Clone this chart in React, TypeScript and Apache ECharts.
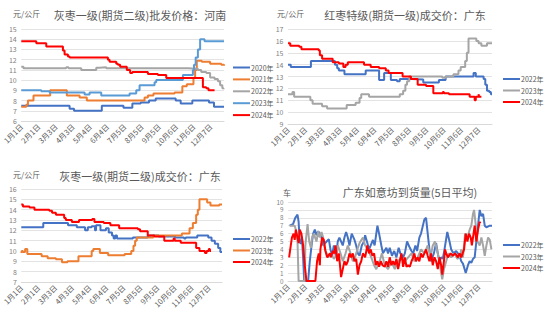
import React, { useEffect, useRef } from 'react';
import * as echarts from 'echarts';

type Pt = [number, number];

// x axis: day of year (0 = 1月1日), ticks every 31 days
const xTickLabels = ['1月1日', '2月1日', '3月3日', '4月3日', '5月4日', '6月4日', '7月5日', '8月5日', '9月5日', '10月6日', '11月6日', '12月7日'];

const titles = [
  '灰枣一级(期货二级)批发价格：河南',
  '红枣特级(期货一级)成交价：广东',
  '灰枣一级(期货二级)成交价：广东',
  '广东如意坊到货量(5日平均)',
];
const units = ['元/公斤', '元/公斤', '元/公斤', '车'];

// Panel 1: 灰枣一级 批发价格 河南 (step points: [day, new value])
const p1_2020: Pt[] = [[0,7.5],[87,7.2],[95,7.0],[145,7.5],[184,7.3],[200,7.7],[215,7.8],[230,8.0],[242,8.2],[278,8.0],[287,7.7],[308,8.0],[338,7.8],[347,7.4],[365,7.4]];
const p1_2021: Pt[] = [[0,7.4],[9,7.6],[12,8.0],[22,8.5],[52,9.0],[82,8.5],[105,8.3],[118,8.0],[222,8.3],[228,8.5],[238,8.7],[276,8.8],[290,9.4],[298,9.6],[310,10.2],[313,11.0],[316,11.9],[325,11.8],[340,11.6],[360,11.5],[365,11.4]];
const p1_2022: Pt[] = [[0,11.3],[4,11.15],[81,11.25],[85,11.15],[108,11.0],[135,11.2],[141,11.25],[153,11.15],[300,11.1],[318,11.0],[324,10.8],[333,10.7],[340,10.25],[348,10.1],[354,9.9],[358,9.5],[362,9.2],[364,9.1]];
const p1_2023: Pt[] = [[0,9.0],[36,8.9],[51,8.8],[114,8.6],[123,8.8],[144,8.5],[195,8.7],[207,9.0],[213,9.5],[240,9.8],[243,10.0],[291,10.5],[309,11.0],[311,11.5],[314,12.2],[318,13.0],[322,14.0],[330,13.8],[365,13.8]];
const p1_2024: Pt[] = [[0,13.8],[27,13.6],[45,13.3],[75,12.9],[78,12.5],[84,12.3],[87,12.2],[156,12.0],[159,11.8],[171,11.6],[174,11.5],[178,11.3],[190,11.0],[196,10.7],[200,10.8],[228,10.6],[246,10.5],[261,10.2],[327,9.3],[333,9.2],[337,9.0],[348,9.0]];

// Panel 2: 红枣特级 成交价 广东
const p2_2022: Pt[] = [[0,14.0],[5,13.8],[41,14.3],[84,14.0],[88,13.7],[91,13.5],[101,13.2],[139,13.5],[163,12.7],[172,13.3],[184,12.7],[195,12.6],[200,12.8],[211,12.75],[242,12.5],[270,12.7],[282,13.0],[332,13.3],[336,13.0],[350,12.8],[353,12.3],[356,11.8],[360,11.7],[363,11.5],[365,11.5]];
const p2_2023: Pt[] = [[0,11.5],[8,11.7],[11,11.3],[40,11.0],[44,10.7],[61,10.5],[70,10.3],[105,10.6],[121,10.8],[128,11.2],[131,11.5],[145,11.3],[200,11.5],[206,11.8],[210,12.3],[213,12.6],[217,13.0],[276,12.9],[282,13.0],[296,13.2],[305,13.5],[309,13.8],[317,14.3],[320,15.0],[323,16.2],[337,16.0],[341,15.8],[346,15.6],[356,15.8],[365,15.8]];
const p2_2024: Pt[] = [[0,15.8],[4,15.6],[20,15.5],[24,15.3],[55,15.2],[57,14.8],[61,14.5],[80,14.2],[91,14.1],[99,13.8],[103,14.0],[107,14.2],[136,14.0],[148,13.8],[163,13.7],[175,13.5],[180,13.3],[205,13.0],[220,12.8],[232,12.3],[247,12.2],[260,11.6],[277,11.7],[279,11.6],[288,11.5],[325,11.3],[334,11.0],[336,11.3],[341,11.5],[342,11.3],[346,11.3]];

// Panel 3: 灰枣一级 成交价 广东
const p3_2022: Pt[] = [[0,12.3],[40,12.7],[85,12.5],[101,12.3],[116,12.0],[121,12.3],[128,12.4],[134,12.0],[136,12.5],[144,12.0],[154,12.2],[159,11.8],[165,11.5],[168,11.2],[171,11.5],[174,11.2],[203,11.3],[230,11.5],[250,11.4],[280,11.3],[296,11.2],[299,11.3],[320,11.5],[340,11.3],[346,11.0],[352,10.7],[358,10.3],[362,9.9],[365,9.9]];
const p3_2023: Pt[] = [[0,9.8],[1,10.0],[3,9.9],[7,10.2],[11,9.7],[37,9.5],[48,9.3],[63,9.2],[74,8.9],[84,9.0],[104,9.5],[128,10.0],[131,10.2],[143,9.8],[158,9.6],[188,9.7],[200,10.0],[204,10.5],[207,11.0],[210,11.3],[240,11.5],[292,11.7],[306,12.2],[312,12.7],[318,13.5],[321,14.0],[324,15.0],[338,14.7],[344,14.4],[360,14.5],[365,14.5]];
const p3_2024: Pt[] = [[0,14.5],[3,14.3],[15,14.2],[24,14.0],[51,13.9],[56,13.7],[63,13.5],[78,13.2],[81,13.0],[92,12.8],[105,13.0],[129,13.1],[133,12.8],[150,12.7],[162,12.5],[178,12.2],[212,12.1],[216,11.9],[230,11.5],[242,11.4],[260,11.0],[277,11.2],[279,11.0],[290,10.8],[318,10.3],[324,10.0],[334,9.8],[337,10.0],[341,10.2],[343,10.0],[345,10.0]];

// Panel 4: 广东如意坊到货量 (5日平均)
const p4_2022: Pt[] = [[3,7.0],[9,7.2],[13,8.0],[17,8.4],[19,7.5],[21,5.0],[23,4.7],[25,5.5],[27,3.0],[29,0],[36,0],[39,2.5],[43,5.0],[45,6.0],[48,6.5],[51,5.8],[54,6.3],[57,6.0],[60,5.5],[63,4.5],[69,5.0],[73,5.3],[76,4.0],[79,3.2],[82,4.5],[86,3.0],[89,5.0],[92,5.5],[98,4.5],[101,5.5],[104,6.2],[107,5.5],[110,4.5],[114,6.0],[119,5.2],[122,4.5],[125,3.5],[128,3.2],[132,4.5],[136,5.0],[138,5.8],[142,4.8],[145,4.0],[148,4.5],[152,5.2],[155,4.5],[160,7.0],[163,6.0],[167,4.5],[170,3.5],[176,4.2],[179,3.5],[182,4.2],[186,3.2],[190,3.8],[194,3.0],[198,4.2],[201,3.5],[206,3.0],[209,3.5],[213,5.0],[218,4.2],[221,3.8],[224,3.5],[228,4.5],[231,3.8],[235,5.5],[238,6.0],[244,7.8],[247,8.0],[250,6.0],[253,4.0],[256,2.5],[261,3.5],[265,4.8],[268,3.5],[271,2.5],[274,3.0],[277,2.8],[280,4.0],[285,6.2],[289,5.0],[292,4.0],[296,3.5],[301,3.8],[304,3.5],[307,3.2],[310,2.5],[313,2.2],[316,1.5],[318,1.0],[322,2.0],[325,2.5],[328,2.3],[331,2.8],[334,3.0],[337,5.0],[340,7.0],[343,9.0],[346,8.2],[349,8.5],[352,7.0],[355,6.8],[361,7.0],[365,7.0]];
const p4_2023: Pt[] = [[3,7.0],[12,7.0],[14,6.5],[17,5.0],[19,0],[30,0],[31,4.5],[35,7.2],[38,5.0],[41,4.2],[43,5.5],[46,6.0],[51,5.0],[54,6.3],[57,5.5],[60,6.2],[63,5.5],[66,4.0],[72,3.0],[77,3.5],[82,2.8],[86,3.2],[89,4.5],[94,3.5],[98,2.5],[103,3.5],[107,4.5],[112,3.5],[116,2.5],[120,3.0],[124,4.0],[128,4.8],[134,5.5],[138,4.5],[143,4.0],[149,3.0],[154,2.0],[158,1.5],[164,2.5],[168,3.5],[173,2.0],[179,1.5],[185,2.5],[191,1.5],[197,2.5],[203,3.0],[209,2.5],[215,3.0],[221,3.5],[226,2.5],[232,3.0],[238,4.0],[244,3.5],[250,4.5],[255,3.0],[259,4.5],[263,5.0],[268,3.5],[272,2.0],[274,1.0],[276,0.2],[279,1.5],[283,2.5],[287,3.5],[292,3.0],[298,3.5],[303,2.8],[307,3.0],[310,4.0],[313,3.0],[317,6.0],[321,5.5],[325,6.5],[328,7.0],[331,8.5],[333,9.0],[336,7.0],[339,5.0],[343,4.5],[346,5.5],[349,4.5],[352,3.2],[355,4.5],[358,5.5],[361,5.2],[364,4.0]];
const p4_2024: Pt[] = [[2,3.0],[5,4.5],[7,5.5],[10,6.0],[12,5.2],[14,6.5],[17,5.5],[19,4.8],[21,6.5],[24,6.0],[27,4.5],[30,2.0],[33,0],[49,0],[52,2.5],[55,3.5],[57,2.0],[58,4.0],[61,5.5],[64,5.2],[67,3.8],[70,3.0],[75,3.5],[77,3.0],[80,3.8],[83,3.5],[85,4.5],[88,2.5],[91,3.5],[95,0.5],[98,1.5],[101,2.5],[104,2.0],[107,2.5],[110,3.5],[113,3.0],[116,3.5],[119,2.5],[122,2.8],[125,0.8],[128,2.0],[131,2.5],[134,3.5],[138,3.0],[142,4.5],[145,3.5],[148,4.0],[151,3.2],[154,3.5],[157,2.0],[160,2.5],[163,1.8],[166,2.5],[169,2.0],[173,1.8],[176,2.5],[179,1.8],[182,3.0],[185,2.0],[188,2.5],[191,2.0],[194,2.8],[197,1.5],[200,2.5],[203,3.5],[206,1.8],[209,3.0],[212,1.8],[215,2.0],[218,1.8],[221,2.5],[224,3.0],[226,3.5],[229,2.5],[232,3.0],[235,2.5],[238,3.5],[241,3.0],[244,3.5],[247,4.0],[250,3.2],[253,2.5],[256,3.5],[259,2.0],[262,3.0],[265,2.5],[268,1.5],[271,3.0],[274,2.0],[276,0.8],[279,2.5],[281,4.0],[283,3.5],[286,3.0],[291,3.5],[295,3.2],[299,3.5],[304,3.0],[307,3.5],[310,3.0],[315,4.0],[318,6.0],[321,5.0],[324,6.0],[327,5.5],[329,4.5],[332,6.0],[334,7.0],[337,5.0],[340,6.5],[343,7.5],[344,7.3]];

const C_BLUE = '#4472C4';
const C_ORANGE = '#ED7D31';
const C_GRAY = '#A5A5A5';
const C_LBLUE = '#5B9BD5';
const C_RED = '#FF0000';

const FONT = '"Noto Sans CJK SC", "Noto Sans", sans-serif';
const TXT = '#595959';

export default function App() {
  const ref = useRef<HTMLDivElement>(null);
  useEffect(() => {
    document.body.style.margin = '0';
    if (!ref.current) return;
    const chart = echarts.init(ref.current, undefined, { renderer: 'svg' });

    const grids = [
      { left: 20, top: 29, width: 204, height: 92 },
      { left: 288, top: 29, width: 204, height: 95 },
      { left: 20, top: 189, width: 202, height: 93 },
      { left: 288, top: 202, width: 204, height: 79 },
    ];
    const yRanges = [[6, 15], [9, 17], [7, 16], [0, 10]];
    const yFont = [7, 7, 7, 6.3];

    const xAxes = grids.map((_, i) => ({
      type: 'value', gridIndex: i, min: 0, max: 365, interval: 31,
      axisLine: { show: true, lineStyle: { color: '#D9D9D9', width: 1 } },
      axisTick: { show: false },
      splitLine: { show: false },
      axisLabel: {
        rotate: 45, fontSize: 7.5, color: TXT, fontFamily: FONT, margin: 4,
        showMaxLabel: false,
        formatter: (v: number) => {
          const k = Math.round(v / 31);
          return v % 31 === 0 && k < xTickLabels.length ? xTickLabels[k] : '';
        },
      },
    }));
    const yAxes = yRanges.map((r, i) => ({
      type: 'value', gridIndex: i, min: r[0], max: r[1], interval: 1,
      axisLine: { show: false }, axisTick: { show: false },
      splitLine: { show: true, lineStyle: { color: '#E3E3E3', width: 1 } },
      axisLabel: { fontSize: yFont[i], lineHeight: yFont[i], color: '#7F7F7F', fontFamily: FONT, margin: 4.5 },
    }));

    const mk = (name: string, p: number, data: Pt[], color: string, step: boolean) => ({
      type: 'line', name: name + '#' + p, xAxisIndex: p, yAxisIndex: p, data,
      step: step ? 'end' : false, showSymbol: false, symbol: 'none',
      lineStyle: { color, width: 2 }, itemStyle: { color }, z: 2,
    });

    const series = [
      mk('2020年', 0, p1_2020, C_BLUE, true),
      mk('2021年', 0, p1_2021, C_ORANGE, true),
      mk('2022年', 0, p1_2022, C_GRAY, true),
      mk('2023年', 0, p1_2023, C_LBLUE, true),
      mk('2024年', 0, p1_2024, C_RED, true),
      mk('2022年', 1, p2_2022, C_BLUE, true),
      mk('2023年', 1, p2_2023, C_GRAY, true),
      mk('2024年', 1, p2_2024, C_RED, true),
      mk('2022年', 2, p3_2022, C_BLUE, true),
      mk('2023年', 2, p3_2023, C_ORANGE, true),
      mk('2024年', 2, p3_2024, C_RED, true),
      mk('2022年', 3, p4_2022, C_BLUE, false),
      mk('2023年', 3, p4_2023, C_GRAY, false),
      mk('2024年', 3, p4_2024, C_RED, false),
    ];

    const legendPos = [
      { left: 233, top: 62.5, gap: 1.9, p: 0, names: ['2020年', '2021年', '2022年', '2023年', '2024年'] },
      { left: 503, top: 74, gap: 1.5, p: 1, names: ['2022年', '2023年', '2024年'] },
      { left: 233, top: 234, gap: 1.5, p: 2, names: ['2022年', '2023年', '2024年'] },
      { left: 503, top: 240, gap: 1.5, p: 3, names: ['2022年', '2023年', '2024年'] },
    ];
    const legends = legendPos.map((l) => ({
      orient: 'vertical', left: l.left, top: l.top, padding: 0,
      itemWidth: 17, itemHeight: 2, itemGap: l.gap, icon: 'rect',
      data: l.names.map((n) => n + '#' + l.p),
      formatter: (n: string) => n.split('#')[0],
      textStyle: { fontSize: 7, color: TXT, fontFamily: FONT, lineHeight: 10, padding: [0, 0, 0, -4] },
      selectedMode: false,
    }));

    const titlePos = [[140, 15], [405, 15], [140, 176], [410, 192]];
    const unitPos = [[13, 13], [277, 13], [13, 174], [283, 192]];
    const graphic: any[] = [];
    titles.forEach((t, i) => {
      graphic.push({
        type: 'text', x: titlePos[i][0], y: titlePos[i][1],
        style: { text: t, fill: TXT, fontSize: 11, fontFamily: FONT, align: 'center', verticalAlign: 'middle' },
      });
      graphic.push({
        type: 'text', x: unitPos[i][0], y: unitPos[i][1],
        style: { text: units[i], fill: TXT, fontSize: 8, fontFamily: FONT, align: 'left', verticalAlign: 'middle' },
      });
    });

    chart.setOption({
      animation: false,
      backgroundColor: '#FFFFFF',
      grid: grids,
      xAxis: xAxes,
      yAxis: yAxes,
      legend: legends,
      series,
      graphic,
    } as any);
    return () => chart.dispose();
  }, []);
  return <div ref={ref} style={{ width: 550, height: 321 }} />;
}
